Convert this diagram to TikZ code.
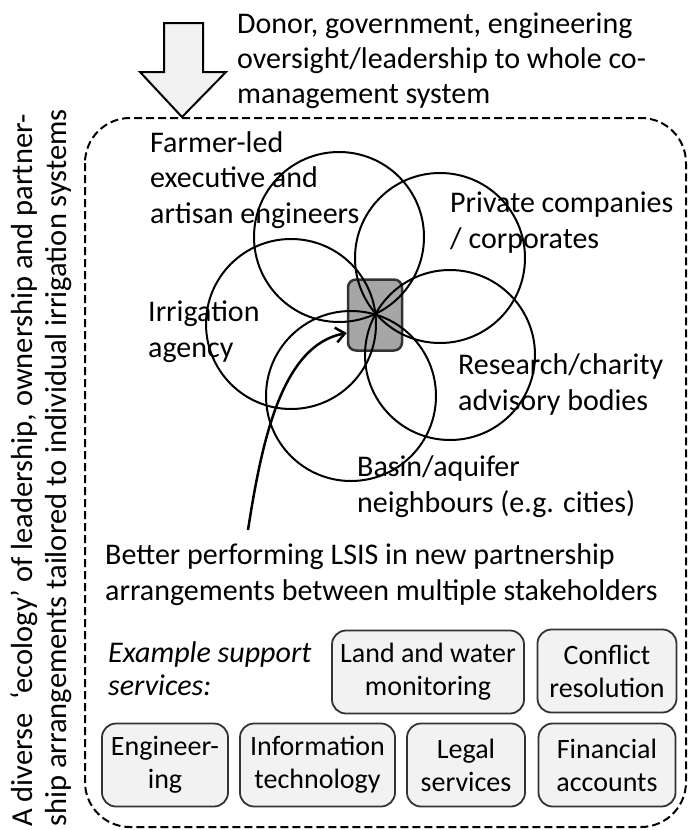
\documentclass[tikz,border=0pt]{standalone}
\usepackage{fontspec}
\setmainfont{Carlito}
\usetikzlibrary{arrows.meta}
\definecolor{boxgray}{HTML}{F2F2F2}
\definecolor{coregray}{HTML}{A6A6A6}
\begin{document}
\begin{tikzpicture}[x=1pt,y=-1pt,
  lbl/.style={inner sep=0pt, align=left, anchor=base west, font=\fontsize{30}{35.5}\selectfont},
  petal/.style={circle, draw=black, line width=2pt, minimum size=170pt, inner sep=0pt},
  svc/.style={draw=black!80, line width=1.8pt, fill=boxgray, rounded corners=14pt, minimum height=83pt, inner sep=0pt, align=center, font=\fontsize{28}{33}\selectfont},
  bigarrow/.style={draw=black, line width=2pt, fill=boxgray, line join=miter},
  frame/.style={draw=black, line width=2pt, dash pattern=on 8pt off 4pt, rounded corners=45pt},
]
\useasboundingbox (0,0) rectangle (689,830);
\fill[white] (0,0) rectangle (689,830);

% outer dashed frame
\draw[frame] (85,118) rectangle (686,827);

% big oversight arrow
\draw[bigarrow] (164,23) -- (203,23) -- (203,72) -- (226,72) -- (182,117) -- (140,72) -- (164,72) -- cycle;
\node[lbl, font=\fontsize{30}{35}\selectfont] (donor) at (237,103) {Donor, government, engineering\\oversight/leadership to whole co-\\management system};

% vertical text
\node[lbl, rotate=90, font=\fontsize{30.5}{34}\selectfont] (ecology) at (66,827) {A diverse\hspace{0.45em}‘ecology’ of leadership, ownership and partner-\\ship arrangements tailored to individual irrigation systems};

% core square
\node[draw=black!80, line width=2.5pt, fill=coregray, rounded corners=8pt, minimum width=54pt, minimum height=71pt, inner sep=0pt] (core) at (375,315) {};

% petals
\node[petal] (ptop) at (339,237) {};
\node[petal] (ppriv) at (440,258) {};
\node[petal] (pres) at (450,355) {};
\node[petal] (pbasin) at (351,396) {};
\node[petal] (pirr) at (291,324) {};

% labels
\node[lbl] (farmer) at (150,223) {Farmer-led\\executive and\\artisan engineers};
\node[lbl] (private) at (450,248) {Private companies\\/ corporates};
\node[lbl] (irrig) at (148,357) {Irrigation\\agency};
\node[lbl] (research) at (458,410) {Research/charity\\advisory bodies};
\node[lbl] (basin) at (357,512) {Basin/aquifer\\neighbours (e.g. cities)};
\node[lbl] (better) at (105,600) {Better performing LSIS in new partnership\\arrangements between multiple stakeholders};

% curved arrow
\coordinate (astart) at (248,530);
\draw[line width=2.5pt, -{Straight Barb[length=9pt,width=15pt]}] (astart) .. controls (262,440) and (282,345) .. ([yshift=-18pt]core.west);

% support services
\node[lbl, font=\fontsize{30}{33}\selectfont\itshape] (example) at (108,695) {Example support\\services:};
\node[svc, minimum width=192pt] (land) at (428,672) {Land and water\\monitoring};
\node[svc, minimum width=139pt] (conflict) at (607,671) {Conflict\\resolution};
\node[svc, minimum width=126pt] (eng) at (165,765) {Engineer-\\ing};
\node[svc, minimum width=155pt] (info) at (317.5,765) {Information\\technology};
\node[svc, minimum width=118pt] (legal) at (466,765) {Legal\\services};
\node[svc, minimum width=137pt] (fin) at (607,765) {Financial\\accounts};
\end{tikzpicture}
\end{document}
